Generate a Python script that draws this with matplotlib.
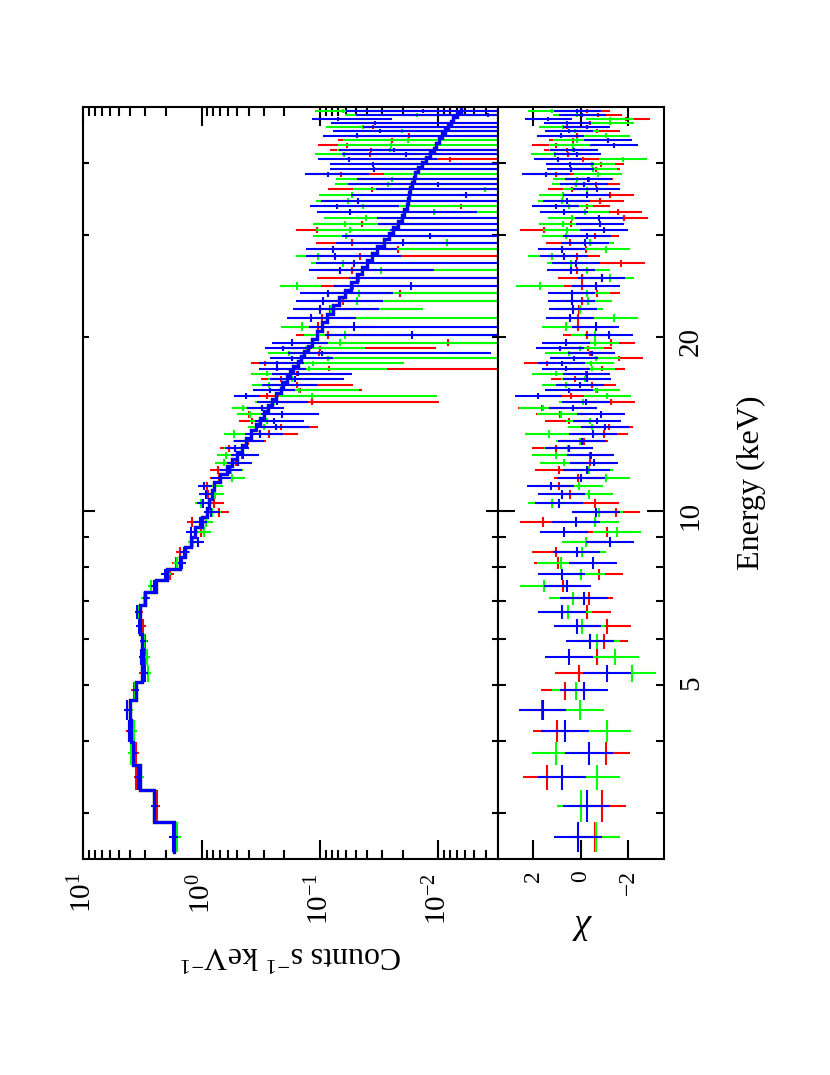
import numpy as np
import matplotlib
matplotlib.use('Agg')
import matplotlib.pyplot as plt
from matplotlib.ticker import FixedLocator, FixedFormatter, LogLocator, NullFormatter

plt.rcParams['font.family'] = ['Liberation Serif', 'DejaVu Serif']
plt.rcParams['mathtext.fontset'] = 'custom'
plt.rcParams['mathtext.rm'] = 'Liberation Serif'
plt.rcParams['mathtext.it'] = 'Liberation Serif:italic'
plt.rcParams['mathtext.bf'] = 'Liberation Serif:bold'

# ---------------- data ----------------
# energy bin edges (keV), shared by the three spectra
edges = [2.57, 2.90, 3.29, 3.64, 3.98, 4.35, 4.72, 5.07, 5.42, 5.78,
         6.14, 6.50, 6.89, 7.25, 7.60, 7.95, 8.32, 8.67, 9.03, 9.40,
         9.78, 10.13, 10.50, 10.87, 11.22, 11.60, 11.95, 12.30, 12.67, 13.02,
         13.40, 13.78, 14.13, 14.50, 14.90, 15.25, 15.60, 16.00, 16.35, 16.70,
         17.10, 17.45, 17.80, 18.20, 18.55, 18.90, 19.30, 19.80, 20.45, 21.20,
         21.95, 22.70, 23.45, 24.15, 24.90, 25.70, 26.45, 27.20, 27.95, 28.70,
         29.50, 30.25, 31.00, 31.75, 32.50, 33.25, 34.00, 34.80, 35.60, 36.35,
         37.10, 37.85, 38.60, 39.40, 40.20, 41.00, 41.75, 42.50, 43.30, 44.15,
         44.95, 45.70, 46.50, 47.25, 48.00, 48.80, 49.60]

# folded model (counts s^-1 keV^-1) per bin
model = [1.72, 2.54, 3.35, 3.77, 3.95, 4.00, 3.62, 3.20, 3.15, 3.20,
         3.35, 3.35, 2.99, 2.42, 1.95, 1.53, 1.39, 1.22, 1.15, 1.00,
         0.91, 0.86, 0.82, 0.78, 0.70, 0.61, 0.56, 0.50, 0.46, 0.42,
         0.38, 0.345, 0.32, 0.30, 0.275, 0.255, 0.235, 0.215, 0.205, 0.19,
         0.178, 0.168, 0.155, 0.145, 0.137, 0.127, 0.118, 0.106, 0.096, 0.088,
         0.078, 0.069, 0.062, 0.055, 0.049, 0.044, 0.040, 0.0365, 0.033, 0.029,
         0.0264, 0.024, 0.022, 0.0205, 0.0195, 0.0185, 0.018, 0.0176, 0.0173, 0.0168,
         0.0162, 0.0157, 0.0148, 0.0138, 0.0127, 0.0118, 0.0110, 0.0104, 0.0099, 0.0093,
         0.0088, 0.0083, 0.0079, 0.0075, 0.0070, 0.0065]

# 1-sigma count-rate errors per bin
err = [0.14, 0.16, 0.17, 0.19, 0.19, 0.19, 0.18, 0.17, 0.17, 0.17,
       0.18, 0.18, 0.18, 0.157, 0.137, 0.122, 0.125, 0.122, 0.127, 0.125,
       0.127, 0.129, 0.131, 0.133, 0.13, 0.122, 0.12, 0.12, 0.12, 0.118,
       0.114, 0.11, 0.109, 0.108, 0.107, 0.107, 0.106, 0.103, 0.103, 0.10,
       0.10, 0.097, 0.096, 0.094, 0.092, 0.089, 0.085, 0.075, 0.072, 0.07,
       0.068, 0.065, 0.062, 0.06, 0.058, 0.057, 0.056, 0.055, 0.055, 0.054,
       0.054, 0.053, 0.052, 0.052, 0.051, 0.05, 0.05, 0.049, 0.049, 0.048,
       0.048, 0.048, 0.047, 0.047, 0.047, 0.047, 0.046, 0.046, 0.046, 0.046,
       0.046, 0.046, 0.046, 0.046, 0.046, 0.047]

# residuals chi = (data - model) / error, per spectrum
chi_red = [-0.60, -0.88, 1.44, -1.08, 1.02, 1.62, 0.66, 0.07, -0.69, -0.97,
           -1.10, -0.25, -0.34, 0.77, -0.76, 0.95, 1.06, -0.20, -1.12, 1.58,
           -1.50, -0.60, 0.46, 0.92, 0.11, 0.92, -0.38, -0.38, 1.05, -0.14,
           -0.98, -1.19, 0.50, 0.88, 1.65, -1.29, 0.42, -0.66, -0.48, 0.25,
           -0.20, -0.87, 1.41, -1.61, -0.38, -0.31, -1.29, -0.27, 0.11, 0.11,
           0.07, -0.07, -0.66, -0.03, -0.03, 0.18, -1.71, 0.18, -0.20, 0.46,
           -0.59, 1.54, 0.42, -1.81, -1.57, -0.24, -0.80, -1.22, 0.39, -0.63,
           -0.35, 1.05, -0.63, -0.83, -0.10, 0.56, 0.57, 1.05, 0.32, 0.18,
           -0.66, 0.60, -0.38, -1.92, -0.73, -0.24]
chi_green = [-0.65, 0.01, -0.66, 1.05, -1.10, 0.03, 0.21, -2.16, -1.43, -0.66,
             -0.03, 0.52, 0.32, 1.54, -0.01, 0.84, -0.04, -0.21, -1.53, -0.60,
             -0.77, 1.23, -0.35, 0.07, -1.08, -0.34, 0.71, 1.05, 0.53, 0.04,
             1.33, -0.45, -0.38, 0.84, 1.61, -0.10, -1.12, -0.63, 0.63, -0.17,
             1.05, -0.45, -0.41, -0.63, 0.50, 0.04, -0.59, -0.59, 0.63, -1.39,
             0.05, -0.31, -0.24, 1.72, -1.22, -0.24, 0.43, 1.23, -1.05, -0.38,
             0.63, 0.60, 0.77, 0.39, -0.17, 0.50, 0.81, 0.74, -0.27, 0.21,
             0.18, -0.73, -0.52, -0.45, -1.78, 1.09, 0.32, 0.32, 0.18, -1.08,
             0.25, 0.77, -1.22, -1.22, 0.18, 1.23]
chi_blue = [0.11, -0.24, 0.80, -0.35, 0.67, 1.61, -0.14, -1.10, 0.49, -0.38,
            0.15, 0.80, -0.13, 0.57, 0.81, -0.52, 0.18, -1.22, 0.71, 0.21,
            -0.63, 0.91, 0.81, 1.27, 0.00, -0.24, -0.55, -0.41, 0.50, -0.04,
            -0.52, -1.01, -0.69, -0.84, 0.32, -0.21, 1.79, 0.50, 0.04, -0.27,
            -0.24, 0.63, 0.81, 0.28, -0.45, 0.88, 0.63, -1.19, -0.62, 0.46,
            0.32, 0.39, 0.39, -0.63, -0.87, 0.42, 0.21, 0.71, 0.81, -0.17,
            -0.27, -0.97, -0.80, -0.76, 0.71, 1.06, 0.60, -0.24, -0.66, -0.14,
            -0.32, 1.47, 0.43, 0.46, 0.95, 0.15, 0.28, -1.39, -1.15, 0.85,
            0.49, -0.24, 0.57, 1.37, -0.07, 0.15]

series_colors = ['#ff0000', '#00ff00', '#0000ff']

count_ticks = [10, 1, 0.1, 0.01]
count_tick_labels = [r'$10^{1}$', r'$10^{0}$', r'$10^{-1}$', r'$10^{-2}$']
energy_major = [10]
energy_major_labels = ['10']
energy_minor = [3, 4, 5, 6, 7, 8, 9, 20, 30, 40]
energy_minor_labels = ['', '', '5', '', '', '', '', '20', '', '']
chi_ticks = [2, 0, -2]
chi_tick_labels = ['2', '0', '\u22122']

# ---------------- figure ----------------
fig = plt.figure(figsize=(8.3, 10.75), dpi=100)
ax = fig.add_axes([0.1004, 0.2007, 0.4992, 0.7000])
axr = fig.add_axes([0.5996, 0.2007, 0.2004, 0.7000])

edges_a = np.asarray(edges)
lo = edges_a[:-1]
hi = edges_a[1:]
cen = 0.5 * (lo + hi)
model_a = np.asarray(model)
err_a = np.asarray(err)
ey = [cen - lo, hi - cen]
step_x = np.repeat(model_a, 2)
step_y = np.column_stack([lo, hi]).ravel()

for chi, col in zip([chi_red, chi_green, chi_blue], series_colors):
    chi_a = np.asarray(chi)
    rate = model_a + chi_a * err_a
    ax.errorbar(rate, cen, xerr=err_a, yerr=ey, fmt='none', ecolor=col,
                elinewidth=1.5, capsize=0)
    ax.plot(step_x, step_y, color=col, lw=2.3, solid_joinstyle='miter')
    axr.errorbar(chi_a, cen, xerr=1.0, yerr=ey, fmt='none', ecolor=col,
                 elinewidth=1.5, capsize=0)

# main panel axes
ax.set_xscale('log')
ax.set_yscale('log')
ax.set_xlim(10, 10 ** -2.5)
ax.set_ylim(2.5, 50)
ax.xaxis.set_major_locator(FixedLocator(count_ticks))
ax.xaxis.set_major_formatter(FixedFormatter(count_tick_labels))
ax.xaxis.set_minor_locator(LogLocator(base=10, subs=np.arange(2, 10), numticks=20))
ax.xaxis.set_minor_formatter(NullFormatter())
ax.yaxis.set_major_locator(FixedLocator(energy_major))
ax.yaxis.set_minor_locator(FixedLocator(energy_minor))
ax.yaxis.set_major_formatter(NullFormatter())
ax.yaxis.set_minor_formatter(NullFormatter())
ax.tick_params(axis='x', which='both', direction='in', top=True, bottom=True,
               labelrotation=90, labelsize=21, pad=10, width=1.5)
ax.tick_params(axis='x', which='major', length=13.5)
ax.tick_params(axis='x', which='minor', length=6.5)
ax.tick_params(axis='y', which='both', direction='in', left=True, right=True,
               labelleft=False, width=1.5)
ax.tick_params(axis='y', which='major', length=8.5)
ax.tick_params(axis='y', which='minor', length=4.3)
ax.set_xlabel(r'Counts s$^{-1}$ keV$^{-1}$', rotation=180, fontsize=23, labelpad=10)

# residual panel axes
axr.set_yscale('log')
axr.set_ylim(2.5, 50)
axr.set_xlim(3.5, -3.5)
axr.xaxis.set_major_locator(FixedLocator(chi_ticks))
axr.xaxis.set_major_formatter(FixedFormatter(chi_tick_labels))
axr.tick_params(axis='x', which='major', direction='in', top=True, bottom=True,
                length=13.5, width=1.5, labelrotation=90, labelsize=17, pad=8)
axr.yaxis.set_major_locator(FixedLocator(energy_major))
axr.yaxis.set_major_formatter(FixedFormatter(energy_major_labels))
axr.yaxis.set_minor_locator(FixedLocator(energy_minor))
axr.yaxis.set_minor_formatter(FixedFormatter(energy_minor_labels))
axr.tick_params(axis='y', which='both', direction='in', left=True, right=True,
                labelleft=False, labelright=True, labelrotation=90,
                labelsize=21, pad=10, width=1.5)
axr.tick_params(axis='y', which='major', length=12)
axr.tick_params(axis='y', which='minor', length=6)
axr.set_xlabel(r'$\chi$', rotation=180, fontsize=26, labelpad=12)
axr.yaxis.set_label_position('right')
axr.set_ylabel('Energy (keV)', rotation=90, fontsize=23, labelpad=24)

for a in (ax, axr):
    for s in a.spines.values():
        s.set_linewidth(1.5)

fig.savefig('out.png', dpi=100, facecolor='white')
